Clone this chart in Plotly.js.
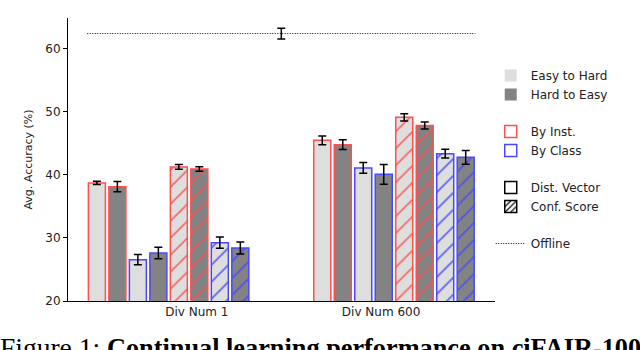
<!DOCTYPE html>
<html>
<head>
<meta charset="utf-8">
<script src="https://cdn.plot.ly/plotly-3.0.1.min.js"></script>
<style>
  body { margin: 0; background: white; }
  #chart { width: 640px; height: 350px; }
</style>
</head>
<body>
<div id="chart"></div>
<script>
// two settings, eight method/order combos each
var groupLabels = ['Div Num 1', 'Div Num 600'];
var comboNames = ['Inst / Dist / E2H', 'Inst / Dist / H2E', 'Class / Dist / E2H', 'Class / Dist / H2E',
                  'Inst / Conf / E2H', 'Inst / Conf / H2E', 'Class / Conf / E2H', 'Class / Conf / H2E'];
var accDiv1   = [38.73, 38.14, 26.56, 27.62, 41.27, 40.95, 29.25, 28.41];
var errDiv1   = [0.25, 0.80, 0.80, 0.90, 0.37, 0.35, 0.90, 0.95];
var accDiv600 = [45.49, 44.81, 41.11, 40.10, 49.14, 47.83, 43.38, 42.79];
var errDiv600 = [0.70, 0.77, 0.85, 1.56, 0.58, 0.56, 0.69, 1.10];
var offlineAcc = 62.43;
var offlineErr = 0.85;

var lightFill = '#dedede';
var darkFill = '#838383';
var red = '#ff5050';
var blue = '#4848ff';

var traces = [];

for (var i = 0; i < comboNames.length; i++) {
  var fill = (i % 2 === 0) ? lightFill : darkFill;
  var edge = (i % 4 < 2) ? red : blue;
  var hatched = i >= 4;
  traces.push({
    type: 'bar',
    name: comboNames[i],
    x: [i, 11 + i],
    y: [accDiv1[i], accDiv600[i]],
    width: 0.83,
    showlegend: false,
    marker: {
      color: fill,
      line: {color: edge, width: 1.5},
      pattern: hatched ? {shape: '/', fgcolor: edge, bgcolor: fill, size: 12, solidity: 0.12} : {shape: ''}
    },
    error_y: {type: 'data', array: [errDiv1[i], errDiv600[i]], color: 'black', thickness: 1.5, width: 4}
  });
}

// legend-only entries
function legendBar(name, group, marker) {
  return {type: 'bar', name: name, x: [null], y: [null], legendgroup: group, showlegend: true, marker: marker};
}
traces.push(legendBar('Easy to Hard', 'g1', {color: lightFill, line: {width: 0}}));
traces.push(legendBar('Hard to Easy', 'g1', {color: darkFill, line: {width: 0}}));
traces.push(legendBar('By Inst.', 'g2', {color: 'white', line: {color: red, width: 1.5}}));
traces.push(legendBar('By Class', 'g2', {color: 'white', line: {color: blue, width: 1.5}}));
traces.push(legendBar('Dist. Vector', 'g3', {color: 'white', line: {color: 'black', width: 1.5}}));
traces.push(legendBar('Conf. Score', 'g3', {color: 'white', line: {color: 'black', width: 1.5},
  pattern: {shape: '/', fgcolor: 'black', bgcolor: 'white', size: 5, solidity: 0.3}}));

// offline reference line with its error bar in the middle
traces.push({
  type: 'scatter', mode: 'lines', name: 'Offline',
  x: [-0.47, 18.47], y: [offlineAcc, offlineAcc],
  line: {color: 'black', dash: '1px,1.5px', width: 1},
  legendgroup: 'g4', showlegend: true
});
traces.push({
  type: 'scatter', mode: 'markers', x: [9], y: [offlineAcc],
  marker: {color: 'rgba(0,0,0,0)', size: 2},
  error_y: {type: 'data', array: [offlineErr], color: 'black', thickness: 1.5, width: 4},
  showlegend: false
});

var layout = {
  width: 640, height: 350,
  margin: {l: 68, r: 145, t: 18, b: 49},
  paper_bgcolor: 'white', plot_bgcolor: 'white',
  font: {family: 'DejaVu Sans', size: 12, color: '#222'},
  barmode: 'overlay',
  showlegend: true,
  legend: {
    x: 0.99, xanchor: 'left', y: 0.848, yanchor: 'top',
    traceorder: 'grouped', tracegroupgap: 18,
    font: {size: 12, color: '#222'},
    bgcolor: 'rgba(0,0,0,0)'
  },
  xaxis: {
    range: [-1.41, 19.43],
    tickvals: [4.88, 13.87], ticktext: groupLabels,
    showgrid: false, zeroline: false,
    showline: true, linecolor: 'black', linewidth: 1,
    ticks: '', tickfont: {size: 12}
  },
  yaxis: {
    range: [20, 64.9],
    tickvals: [20, 30, 40, 50, 60],
    showgrid: false, zeroline: false,
    showline: true, linecolor: 'black', linewidth: 1,
    ticks: 'outside', ticklen: 4, tickcolor: 'black',
    tickfont: {size: 12},
    title: {text: 'Avg. Accuracy (%)', font: {size: 11}, standoff: 10}
  },
  annotations: [{
    xref: 'paper', yref: 'paper', x: -0.164, y: -0.104,
    xanchor: 'left', yanchor: 'top', showarrow: false,
    text: 'Figure 1: <b><span style="font-size:26.3px">Continual learning performance on ciFAIR-100</span></b>',
    font: {family: 'Liberation Serif', size: 27.5, color: 'black'}
  }]
};

Plotly.newPlot('chart', traces, layout, {displayModeBar: false, staticPlot: true});
</script>
</body>
</html>
